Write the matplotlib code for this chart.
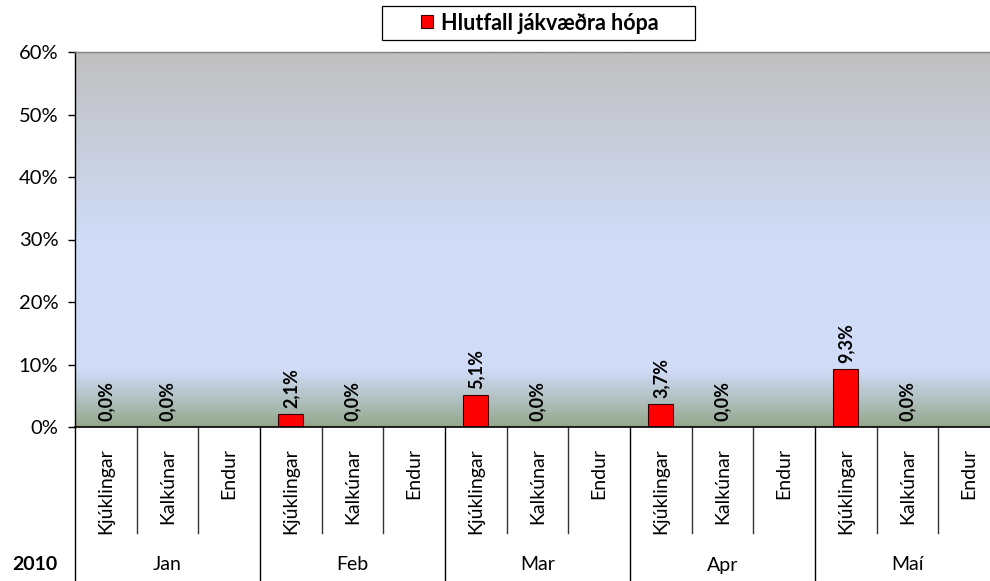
import matplotlib
matplotlib.use("Agg")
import matplotlib.pyplot as plt
import numpy as np
from matplotlib.colors import LinearSegmentedColormap
from matplotlib.patches import Patch, Rectangle

plt.rcParams['font.family'] = ['Lato', 'DejaVu Sans']

months = ["Jan", "Feb", "Mar", "Apr", "Maí"]
species = ["Kjúklingar", "Kalkúnar", "Endur"]
year_label = "2010"
series_name = "Hlutfall jákvæðra hópa"
# values in percent, None = no data
kjuklingar = [0.0, 2.1, 5.1, 3.7, 9.3]
kalkunar = [0.0, 0.0, 0.0, 0.0, 0.0]
endur = [None, None, None, None, None]
yticks = [0, 10, 20, 30, 40, 50, 60]

values = []
cats = []
for m in range(len(months)):
    for s, arr in zip(species, [kjuklingar, kalkunar, endur]):
        values.append(arr[m])
        cats.append(s)
n = len(values)

W, H = 990, 581
fig = plt.figure(figsize=(9.9, 5.81), dpi=100)
ax = fig.add_axes([75/W, 1-427/H, 925/W, (427-52)/H])
ax.set_xlim(0, n)
ax.set_ylim(0, 60)

# gradient background
cmap = LinearSegmentedColormap.from_list(
    "bg", [(0.0, "#95a88e"), (0.15, "#d0dcf8"), (0.5, "#d0dcf8"), (1.0, "#c0c0c0")])
grad = np.linspace(0, 1, 300).reshape(-1, 1)
ax.imshow(grad, cmap=cmap, aspect='auto', extent=[0, n, 0, 60], origin='lower', zorder=0)

xs = np.arange(n) + 0.5
for x, v in zip(xs, values):
    if v is None:
        continue
    ax.bar(x, v, width=0.41, color="#ff0000", edgecolor="#3a0000", linewidth=0.8, zorder=3)
    ax.annotate(f"{v:.1f}%".replace(".", ","), (x, v), xytext=(0, 4.5), textcoords='offset points',
                rotation=90, ha='center', va='bottom', fontsize=13, fontweight='bold', zorder=4)

ax.set_yticks(yticks)
ax.set_yticklabels([f"{t}%" for t in yticks], fontsize=14.5)
ax.tick_params(axis='y', direction='out', length=5, width=1, pad=7)
ax.set_xticks([])
for sp in ['right', 'bottom']:
    ax.spines[sp].set_visible(False)
ax.spines['top'].set_color('#808080')
ax.spines['top'].set_linewidth(1)
ax.spines['left'].set_linewidth(1)

tr = ax.get_xaxis_transform()
ax.plot([0, n], [0, 0], color='black', lw=1.2, transform=tr, clip_on=False, zorder=5)
sub_bottom = -(533-427)/375
for b in range(0, n+1):
    if b % 3 == 0:
        ax.plot([b, b], [0, -0.45], color='black', lw=1, transform=tr, clip_on=False)
    else:
        ax.plot([b, b], [0, sub_bottom], color='#333333', lw=1, transform=tr, clip_on=False)

for x, c in zip(xs, cats):
    ax.text(x, -(448-427)/375, c, rotation=90, ha='center', va='top', fontsize=14, transform=tr)
for i, m in enumerate(months):
    ax.text(3*i+1.5, -(565-427)/375, m, ha='center', va='center', fontsize=14, transform=tr)
fig.text(35/W, 1-565/H, year_label, ha='center', va='center', fontsize=14, fontweight='bold')

# legend
fig.patches.append(Rectangle((382/W, 1-40/H), (695-382)/W, 34/H, transform=fig.transFigure,
                             facecolor='white', edgecolor='black', linewidth=0.9))
handle = Patch(facecolor='#ff0000', edgecolor='#3a0000', linewidth=0.8)
leg = fig.legend([handle], [series_name], loc='center', bbox_to_anchor=(540/W, 1-23/H),
                 frameon=False, prop={'weight': 'bold', 'size': 15.5},
                 handlelength=0.55, handleheight=0.55, handletextpad=0.4, borderpad=0.2,
                 borderaxespad=0)

fig.savefig("out.png", dpi=100)
